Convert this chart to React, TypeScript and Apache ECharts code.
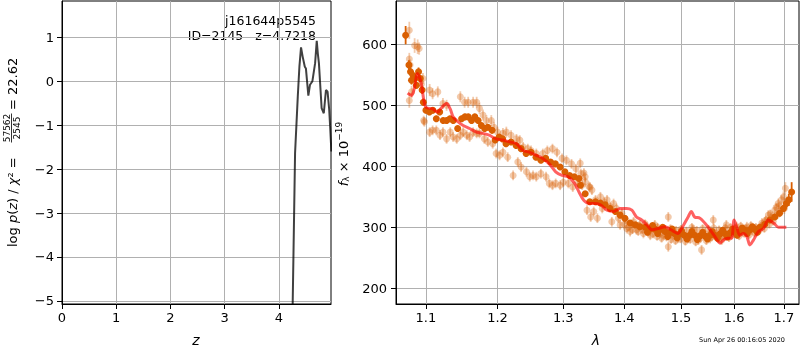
import React, { useEffect, useRef } from 'react';
import * as echarts from 'echarts';

// ---------- left panel: log p(z) ----------
const zValues = [4.24, 4.256, 4.3, 4.35, 4.38, 4.41, 4.44, 4.48, 4.5, 4.545, 4.576, 4.62, 4.67, 4.7, 4.72, 4.74, 4.79, 4.83, 4.87, 4.9, 4.93, 4.95, 4.97];
const logPz = [-6.5, -5.07, -1.64, -0.35, 0.33, 0.77, 0.56, 0.33, 0.29, -0.33, -0.08, 0.0, 0.41, 0.92, 0.63, 0.41, -0.61, -0.73, -0.2, -0.24, -0.65, -1.1, -1.6];
const leftXTicks = [0, 1, 2, 3, 4];
const leftYTicks = [-5, -4, -3, -2, -1, 0, 1];

// ---------- right panel: spectrum ----------
const rightXTicks = [1.1, 1.2, 1.3, 1.4, 1.5, 1.6, 1.7];
const rightYTicks = [200, 300, 400, 500, 600];

// [lambda, flux, error]
const darkPts: [number, number, number][] = [
  [1.0732, 615, 15], [1.0775, 566, 8], [1.0796, 555, 7], [1.0809, 541, 7], [1.083, 549, 7], [1.0851, 544, 6],
  [1.0873, 533, 6], [1.0902, 555, 7], [1.0924, 544, 6], [1.0949, 525, 6], [1.0966, 505, 6], [1.1, 492, 5],
  [1.1047, 489, 5], [1.1093, 492, 5], [1.114, 478, 5], [1.1186, 489, 5], [1.1233, 475, 5], [1.128, 475, 5],
  [1.1326, 478, 5], [1.1372, 475, 5], [1.1433, 462, 5], [1.1488, 478, 5], [1.1535, 481, 5], [1.1581, 481, 5],
  [1.1628, 475, 5], [1.1674, 481, 5], [1.1721, 475, 5], [1.1767, 467, 5], [1.1814, 462, 5], [1.186, 464, 5],
  [1.1921, 459, 5], [1.1967, 443, 5], [1.2025, 448, 4], [1.2075, 445, 4], [1.2125, 437, 4], [1.22, 440, 4],
  [1.2275, 434, 4], [1.235, 429, 4], [1.2425, 421, 4], [1.25, 423, 4], [1.2575, 415, 4], [1.265, 410, 4],
  [1.2725, 413, 4], [1.28, 407, 4], [1.2875, 404, 4], [1.295, 399, 4], [1.3025, 391, 4], [1.31, 385, 4],
  [1.3175, 383, 4], [1.325, 380, 4], [1.3275, 369, 4], [1.335, 355, 4], [1.3425, 342, 4], [1.352, 342, 4],
  [1.36, 340, 4], [1.368, 337, 4], [1.376, 331, 4], [1.385, 326, 4], [1.393, 320, 4], [1.401, 315, 4],
  [1.41, 307, 4], [1.419, 304, 4], [1.427, 301, 4], [1.436, 300, 4], [1.445, 298, 4], [1.453, 297, 4],
  [1.462, 296, 4], [1.471, 293, 4], [1.48, 291, 4], [1.488, 290, 4], [1.497, 289, 4], [1.506, 287, 4],
  [1.516, 287, 4], [1.525, 287, 4], [1.535, 286, 4], [1.544, 286, 4], [1.554, 287, 4], [1.563, 287, 4],
  [1.573, 289, 4], [1.582, 290, 4], [1.592, 291, 4], [1.601, 293, 4], [1.611, 293, 4], [1.621, 295, 4],
  [1.631, 296, 4], [1.641, 297, 4], [1.651, 300, 4], [1.661, 305, 4], [1.671, 312, 4], [1.681, 317, 4],
  [1.691, 323, 5], [1.699, 331, 6], [1.705, 339, 8], [1.71, 345, 10], [1.716, 358, 16],
  [1.44, 292, 4], [1.449, 303, 4], [1.458, 290, 4], [1.467, 300, 4], [1.476, 285, 4], [1.484, 297, 4],
  [1.493, 283, 4], [1.501, 294, 4], [1.511, 281, 4], [1.52, 293, 4], [1.53, 280, 4], [1.54, 292, 4],
  [1.549, 281, 4], [1.558, 293, 4], [1.568, 282, 4], [1.578, 295, 4], [1.587, 284, 4], [1.597, 297, 4],
  [1.606, 287, 4], [1.616, 299, 4], [1.626, 290, 4], [1.636, 301, 4], [1.646, 292, 4],
];

const fadedPts: [number, number, number][] = [
  [1.078, 623, 14], [1.085, 598, 12], [1.089, 596, 12], [1.091, 593, 10], [1.078, 576, 10], [1.079, 566, 9],
  [1.078, 508, 12], [1.081, 522, 10], [1.096, 544, 9], [1.094, 535, 9], [1.097, 475, 8], [1.098, 473, 8],
  [1.105, 456, 8], [1.109, 459, 8], [1.114, 459, 8], [1.119, 451, 8], [1.123, 456, 8], [1.128, 445, 8],
  [1.133, 456, 8], [1.137, 448, 8], [1.142, 445, 8], [1.147, 451, 8], [1.151, 456, 8], [1.156, 451, 8],
  [1.16, 448, 8], [1.165, 456, 8], [1.17, 454, 8], [1.174, 454, 8], [1.181, 445, 8], [1.186, 440, 8],
  [1.193, 437, 8],
  [1.105, 525, 10], [1.109, 519, 9], [1.116, 522, 9], [1.123, 503, 9], [1.128, 500, 9], [1.147, 514, 9],
  [1.153, 505, 9], [1.158, 505, 9], [1.165, 505, 9], [1.17, 505, 9], [1.174, 495, 9], [1.179, 484, 9],
  [1.184, 475, 9], [1.191, 475, 9], [1.195, 464, 9], [1.2, 456, 9], [1.208, 454, 9], [1.213, 456, 9],
  [1.22, 451, 8], [1.228, 445, 8], [1.233, 443, 8], [1.238, 432, 8], [1.245, 429, 8], [1.25, 426, 8],
  [1.258, 421, 8], [1.268, 421, 8], [1.275, 426, 8], [1.283, 429, 8], [1.29, 423, 8], [1.298, 413, 8],
  [1.305, 410, 8], [1.313, 404, 8], [1.32, 396, 8], [1.328, 388, 8], [1.335, 383, 8], [1.343, 366, 8],
  [1.198, 421, 8], [1.203, 418, 8], [1.208, 423, 8], [1.215, 415, 8], [1.223, 385, 8], [1.23, 407, 8],
  [1.235, 399, 8], [1.243, 391, 8], [1.248, 383, 8], [1.253, 385, 8], [1.258, 383, 8], [1.265, 388, 8],
  [1.273, 383, 8], [1.278, 372, 8], [1.283, 369, 8], [1.288, 372, 8], [1.295, 369, 8], [1.3, 374, 8],
  [1.308, 372, 8], [1.315, 366, 8], [1.323, 374, 8], [1.33, 369, 8],
  [1.327, 405, 8], [1.333, 389, 8], [1.335, 375, 8], [1.338, 328, 8], [1.344, 317, 8], [1.341, 367, 8],
  [1.346, 361, 8], [1.349, 326, 8], [1.352, 345, 8], [1.355, 315, 8], [1.36, 350, 8], [1.363, 331, 8],
  [1.366, 342, 8], [1.371, 345, 8], [1.376, 334, 8], [1.379, 309, 8], [1.382, 339, 8], [1.387, 331, 8],
  [1.39, 315, 8], [1.393, 304, 8], [1.396, 323, 8], [1.404, 298, 8], [1.41, 293, 8], [1.416, 309, 8],
  [1.421, 296, 8], [1.427, 304, 8], [1.433, 290, 8], [1.439, 301, 8], [1.445, 287, 8], [1.453, 304, 8],
  [1.462, 290, 8], [1.468, 287, 8], [1.477, 317, 8], [1.477, 268, 8], [1.485, 287, 8], [1.494, 282, 8],
  [1.503, 290, 8], [1.513, 282, 8], [1.522, 296, 8], [1.532, 279, 8], [1.538, 263, 8], [1.544, 290, 8],
  [1.554, 282, 8], [1.56, 312, 8], [1.566, 290, 8], [1.576, 279, 8], [1.585, 304, 8], [1.595, 290, 8],
  [1.605, 301, 8], [1.615, 293, 8], [1.625, 301, 8], [1.635, 296, 8], [1.645, 293, 8], [1.655, 307, 8],
  [1.661, 309, 8], [1.668, 320, 8], [1.675, 317, 8], [1.681, 328, 8], [1.688, 339, 8], [1.695, 345, 8],
  [1.699, 350, 9], [1.701, 331, 9], [1.703, 364, 10],
  [1.4, 305, 7], [1.407, 300, 7], [1.414, 296, 7], [1.424, 293, 7], [1.431, 296, 7], [1.442, 292, 7],
  [1.45, 289, 7], [1.457, 285, 7], [1.465, 282, 7], [1.474, 284, 7], [1.482, 280, 7], [1.49, 278, 7],
  [1.499, 281, 7], [1.508, 277, 7], [1.517, 280, 7], [1.527, 276, 7], [1.536, 282, 7], [1.547, 278, 7],
  [1.557, 284, 7], [1.57, 281, 7], [1.58, 286, 7], [1.59, 283, 7], [1.6, 289, 7], [1.61, 286, 7],
  [1.62, 290, 7], [1.63, 288, 7], [1.64, 291, 7], [1.65, 295, 7], [1.66, 298, 7], [1.67, 305, 7],
  [1.678, 310, 7], [1.686, 320, 7], [1.693, 327, 7],
  [1.403, 312, 7], [1.413, 305, 7], [1.425, 302, 7], [1.436, 306, 7], [1.448, 298, 7], [1.458, 300, 7],
  [1.47, 297, 7], [1.481, 298, 7], [1.491, 295, 7], [1.5, 297, 7], [1.51, 294, 7], [1.52, 300, 7],
  [1.529, 295, 7], [1.54, 298, 7], [1.551, 297, 7], [1.561, 299, 7], [1.571, 296, 7], [1.583, 299, 7],
  [1.593, 300, 7], [1.603, 298, 7], [1.613, 302, 7], [1.623, 298, 7], [1.633, 303, 7], [1.643, 300, 7],
  [1.653, 302, 7], [1.663, 312, 7], [1.672, 322, 7], [1.684, 333, 7], [1.69, 335, 7],
];

const modelLam = [
  1.0758, 1.081, 1.085, 1.0885, 1.091, 1.094, 1.097, 1.1, 1.109, 1.116, 1.121, 1.128, 1.133, 1.137, 1.144,
  1.151, 1.16, 1.17, 1.179, 1.188, 1.198, 1.208, 1.218, 1.228, 1.238, 1.248, 1.258, 1.268, 1.278, 1.288,
  1.298, 1.308, 1.318, 1.325, 1.333, 1.343, 1.349, 1.36, 1.371, 1.382, 1.393, 1.404, 1.413, 1.421, 1.43,
  1.439, 1.448, 1.459, 1.471, 1.482, 1.494, 1.503, 1.513, 1.519, 1.525, 1.535, 1.544, 1.554, 1.563, 1.573,
  1.579, 1.588, 1.595, 1.6, 1.605, 1.611, 1.618, 1.625, 1.631, 1.638, 1.648, 1.658, 1.668, 1.679, 1.689, 1.705,
];
const modelFlux = [
  520, 516, 530, 552, 547, 535, 510, 497, 494, 489, 496, 503, 494, 481, 473,
  467, 462, 456, 454, 451, 445, 443, 440, 437, 426, 423, 418, 413, 404, 391,
  385, 383, 372, 358, 344, 339, 339, 337, 328, 326, 331, 331, 328, 317, 312,
  304, 296, 298, 301, 296, 290, 301, 317, 326, 317, 315, 307, 296, 285, 274,
  279, 282, 282, 312, 301, 287, 290, 285, 271, 279, 293, 298, 312, 307, 300, 300,
];

const FONT = 'DejaVu Sans';
const ORANGE = '#d95f02';
const minus = (s: string) => s.replace('-', '\u2212');

function errRender(color: string, opacity: number) {
  return (params: any, api: any) => {
    const x = api.value(0);
    const y = api.value(1);
    const e = api.value(2);
    const p = api.coord([x, y]);
    const t = api.coord([x, y + e]);
    const b = api.coord([x, y - e]);
    return {
      type: 'group',
      children: [
        { type: 'line', shape: { x1: p[0], y1: t[1], x2: p[0], y2: b[1] }, style: { stroke: color, lineWidth: 1.8, opacity } },
        { type: 'circle', shape: { cx: p[0], cy: p[1], r: 3.5 }, style: { fill: color, opacity } },
      ],
    };
  };
}

export default function App() {
  const ref = useRef<HTMLDivElement>(null);
  useEffect(() => {
    const chart = echarts.init(ref.current!, null, { renderer: 'svg' });
    const axisCommon = {
      axisLine: { show: true, onZero: false, lineStyle: { color: '#000', width: 1 } },
      splitLine: { show: true, lineStyle: { color: '#b0b0b0', width: 1 } },
    };
    const lab = { fontSize: 13, color: '#000', fontFamily: FONT };
    const option: any = {
      animation: false,
      grid: [
        { left: 62, top: 1, width: 269, height: 303, show: true, borderColor: '#000', borderWidth: 1, outerBoundsMode: 'none', containLabel: false },
        { left: 396, top: 1, width: 403, height: 303, show: true, borderColor: '#000', borderWidth: 1, outerBoundsMode: 'none', containLabel: false },
      ],
      xAxis: [
        {
          gridIndex: 0, type: 'value', min: 0, max: 4.963, ...axisCommon,
          axisTick: { show: true, length: 5, customValues: leftXTicks, lineStyle: { color: '#000' } },
          axisLabel: { ...lab, margin: 7, customValues: leftXTicks, formatter: (v: number) => minus(String(v)) },
        },
        {
          gridIndex: 1, type: 'value', min: Math.log10(1.0607), max: Math.log10(1.7314), ...axisCommon,
          axisTick: { show: true, length: 5, customValues: rightXTicks.map(Math.log10), lineStyle: { color: '#000' } },
          axisLabel: { ...lab, margin: 7, customValues: rightXTicks.map(Math.log10), formatter: (v: number) => Math.pow(10, v).toFixed(1) },
        },
      ],
      yAxis: [
        {
          gridIndex: 0, type: 'value', min: -5.07, max: 1.825, ...axisCommon,
          axisTick: { show: true, length: 5, customValues: leftYTicks, lineStyle: { color: '#000' } },
          axisLabel: { ...lab, margin: 8, customValues: leftYTicks, formatter: (v: number) => minus(String(v)) },
        },
        {
          gridIndex: 1, type: 'value', min: 174.3, max: 671, ...axisCommon,
          axisTick: { show: true, length: 5, customValues: rightYTicks, lineStyle: { color: '#000' } },
          axisLabel: { ...lab, margin: 9, customValues: rightYTicks, formatter: (v: number) => String(v) },
        },
      ],
      series: [
        {
          type: 'line', xAxisIndex: 0, yAxisIndex: 0, showSymbol: false, clip: true,
          data: zValues.map((z, i) => [z, logPz[i]]),
          lineStyle: { color: 'rgba(0,0,0,0.75)', width: 2 },
        },
        {
          type: 'custom', xAxisIndex: 1, yAxisIndex: 1, clip: true,
          data: fadedPts.map(p => [Math.log10(p[0]), p[1], p[2]]),
          encode: { x: 0, y: 1 },
          renderItem: errRender(ORANGE, 0.33),
        },
        {
          type: 'custom', xAxisIndex: 1, yAxisIndex: 1, clip: true,
          data: darkPts.map(p => [Math.log10(p[0]), p[1], p[2]]),
          encode: { x: 0, y: 1 },
          renderItem: errRender(ORANGE, 1),
        },
        {
          type: 'line', xAxisIndex: 1, yAxisIndex: 1, showSymbol: false, smooth: 0.3, clip: true,
          data: modelLam.map((l, i) => [Math.log10(l), modelFlux[i]]),
          lineStyle: { color: 'rgba(255,0,0,0.62)', width: 3 },
        },
      ],
      graphic: [
        { type: 'text', x: 316, y: 20.5, style: { text: 'j161644p5545', fontSize: 12.5, fontFamily: FONT, fill: '#000', textAlign: 'right', textVerticalAlign: 'middle' } },
        { type: 'text', x: 316, y: 35, style: { text: 'ID=2145   z=4.7218', fontSize: 12.5, fontFamily: FONT, fill: '#000', textAlign: 'right', textVerticalAlign: 'middle' } },
        { type: 'text', x: 196, y: 340, style: { text: 'z', fontSize: 14, fontStyle: 'italic', fontFamily: FONT, fill: '#000', textAlign: 'center', textVerticalAlign: 'middle' } },
        { type: 'text', x: 596, y: 340, style: { text: 'λ', fontSize: 14, fontStyle: 'italic', fontFamily: FONT, fill: '#000', textAlign: 'center', textVerticalAlign: 'middle' } },
        { type: 'text', x: 742, y: 339.5, style: { text: 'Sun Apr 26 00:16:05 2020', fontSize: 6.5, fontFamily: FONT, fill: '#000', textAlign: 'center', textVerticalAlign: 'middle' } },
        {
          type: 'group', x: 12, y: 247, rotation: Math.PI / 2,
          children: [
            {
              type: 'text', x: 0, y: 0,
              style: {
                text: '{n|log }{i|p}{n|(}{i|z}{n|) / }{i|χ}{n|² =}',
                textAlign: 'left', textVerticalAlign: 'middle', fill: '#000',
                rich: {
                  n: { fontSize: 13, fontFamily: FONT, fill: '#000' },
                  i: { fontSize: 13, fontFamily: FONT, fontStyle: 'italic', fill: '#000' },
                },
              },
            },
            { type: 'text', x: 119, y: -5.5, style: { text: '57562', fontSize: 9, fontFamily: FONT, fill: '#000', textAlign: 'center', textVerticalAlign: 'middle' } },
            { type: 'line', shape: { x1: 104.5, y1: -0.5, x2: 133.5, y2: -0.5 }, style: { stroke: '#000', lineWidth: 0.8 } },
            { type: 'text', x: 119, y: 5, style: { text: '2545', fontSize: 9, fontFamily: FONT, fill: '#000', textAlign: 'center', textVerticalAlign: 'middle' } },
            { type: 'text', x: 137, y: 0, style: { text: '= 22.62', fontSize: 13, fontFamily: FONT, fill: '#000', textAlign: 'left', textVerticalAlign: 'middle' } },
          ],
        },
        {
          type: 'text', x: 343, y: 154, rotation: Math.PI / 2,
          style: {
            text: '{f|f}{sub|λ}{n| × 10}{sup|−19}',
            textAlign: 'center', textVerticalAlign: 'middle', fill: '#000',
            rich: {
              f: { fontSize: 13, fontFamily: FONT, fontStyle: 'italic', lineHeight: 18, verticalAlign: 'middle', fill: '#000' },
              sub: { fontSize: 9, fontFamily: FONT, lineHeight: 9, padding: [5, 0, 0, 0], verticalAlign: 'middle', fill: '#000' },
              n: { fontSize: 13, fontFamily: FONT, lineHeight: 18, verticalAlign: 'middle', fill: '#000' },
              sup: { fontSize: 9, fontFamily: FONT, lineHeight: 9, verticalAlign: 'top', fill: '#000' },
            },
          },
        },
      ],
    };
    chart.setOption(option);
    return () => chart.dispose();
  }, []);
  return <div ref={ref} style={{ position: 'fixed', left: 0, top: 0, width: 800, height: 350 }} />;
}
